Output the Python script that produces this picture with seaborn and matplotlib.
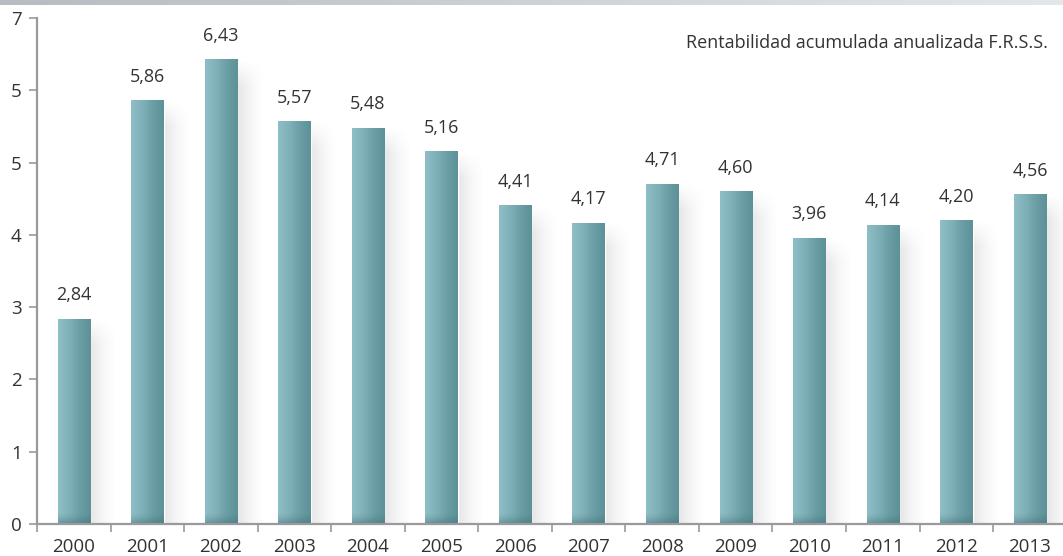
import numpy as np
import pandas as pd
import matplotlib
matplotlib.use("Agg")
import matplotlib.pyplot as plt
from matplotlib.colors import LinearSegmentedColormap
import seaborn as sns

years = ["2000", "2001", "2002", "2003", "2004", "2005", "2006",
         "2007", "2008", "2009", "2010", "2011", "2012", "2013"]
rentabilidad = [2.84, 5.86, 6.43, 5.57, 5.48, 5.16, 4.41,
                4.17, 4.71, 4.60, 3.96, 4.14, 4.20, 4.56]
value_labels = ["2,84", "5,86", "6,43", "5,57", "5,48", "5,16", "4,41",
                "4,17", "4,71", "4,60", "3,96", "4,14", "4,20", "4,56"]
y_ticks = [0, 1, 2, 3, 4, 5, 6, 7]
y_tick_labels = ["0", "1", "2", "3", "4", "5", "5", "7"]
title = "Rentabilidad acumulada anualizada F.R.S.S."

sns.set_theme(style="white")
plt.rcParams["font.family"] = ["Open Sans", "DejaVu Sans"]

df = pd.DataFrame({"year": years, "value": rentabilidad})

fig = plt.figure(figsize=(10.63, 5.56), dpi=100)
ax = fig.add_axes([37 / 1063, 32 / 556, 1 - 37 / 1063, (524 - 18) / 556])

bar_w = 0.44
sns.barplot(data=df, x="year", y="value", color="#78a9b0", width=bar_w,
            saturation=1, ax=ax, zorder=3)

# horizontal gradient for bars (light left, darker right)
bar_cmap = LinearSegmentedColormap.from_list(
    "bar", ["#8fbec6", "#80b1b8", "#6b9fa5", "#5d9198"])
grad = np.linspace(0, 1, 64).reshape(1, -1)
hx = np.linspace(0, 1, 64)

for p in ax.patches:
    x0, w, h = p.get_x(), p.get_width(), p.get_height()
    # soft shadow to the right, fading out at the top
    vy = np.linspace(1, 0, 128)  # 1 = top row
    vert = np.clip((h - vy * h) / 0.35, 0, 1)[:, None]
    horiz = (np.clip(1 - hx, 0, 1) ** 1.6)[None, :]
    sh = np.zeros((128, 64, 4))
    sh[..., :3] = 0.5
    sh[..., 3] = 0.22 * vert * horiz
    ax.imshow(sh, extent=[x0 + w - 0.02, x0 + w + 0.38, 0, h],
              aspect="auto", zorder=2, interpolation="bilinear")
    im = ax.imshow(grad, extent=[x0, x0 + w, 0, h], aspect="auto",
                   cmap=bar_cmap, zorder=4, interpolation="bilinear")
    im.set_clip_path(p)
    # darker base of each bar
    vb = np.linspace(1, 0, 64)[:, None]
    base = np.zeros((64, 2, 4))
    base[..., :3] = np.array([0.24, 0.42, 0.45])
    base[..., 3] = (np.clip((0.35 - vb) / 0.35, 0, 1) ** 1.5 * 0.5)
    ax.imshow(base, extent=[x0, x0 + w, 0, min(h, 0.45)], aspect="auto",
              zorder=5, interpolation="bilinear")

for i, v in enumerate(rentabilidad):
    ax.text(i, v + 0.2, value_labels[i], ha="center", va="bottom",
            fontsize=13, color="#333333", zorder=6)

ax.set_xlim(-0.5, 13.45)
ax.set_ylim(0, 7)
ax.set_yticks(y_ticks)
ax.set_yticklabels(y_tick_labels)
ax.set_xticks(np.arange(len(years)))
ax.set_xticklabels(years)
ax.set_xticks(np.arange(len(years)) - 0.5, minor=True)
ax.set_xlabel("")
ax.set_ylabel("")

for s in ["top", "right"]:
    ax.spines[s].set_visible(False)
for s in ["left", "bottom"]:
    ax.spines[s].set_color("#9a9a9e")
    ax.spines[s].set_linewidth(1.6)
    ax.spines[s].set_zorder(7)

ax.tick_params(axis="y", which="major", left=True, length=6, width=1.2,
               color="#9a9a9e", labelsize=13.5, labelcolor="#333333", pad=5)
ax.tick_params(axis="x", which="major", bottom=False, labelsize=13.5,
               labelcolor="#333333", pad=4)
ax.tick_params(axis="x", which="minor", bottom=True, length=6, width=1.2,
               color="#9a9a9e")

ax.text(0.985, 0.968, title, transform=ax.transAxes, ha="right", va="top",
        fontsize=13, color="#333333")

# grey band along the top edge
top = fig.add_axes([0, 1 - 5 / 556, 1, 5 / 556])
top.imshow(np.linspace(0, 1, 256).reshape(1, -1), aspect="auto",
           cmap=LinearSegmentedColormap.from_list("band", ["#b8bcc2", "#e4e7ea"]))
top.axis("off")

fig.savefig("out.png", dpi=100)
